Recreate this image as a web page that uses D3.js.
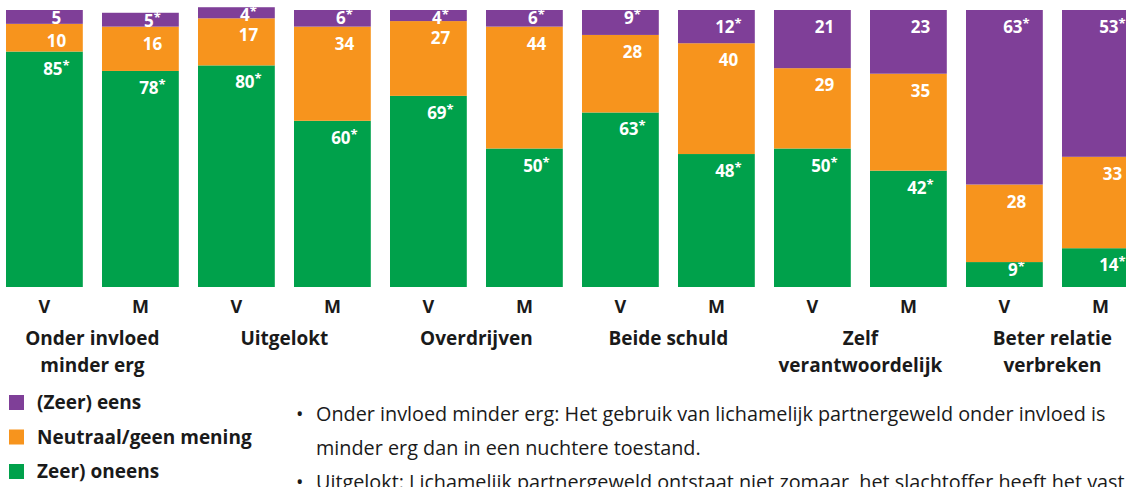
<!DOCTYPE html>
<html>
<head>
<meta charset="utf-8">
<script src="https://cdn.jsdelivr.net/npm/d3@7"></script>
<style>
  body { margin: 0; background: #fff; overflow: hidden; }
  svg { display: block; }
  .lbl { font-family: "Open Sans", sans-serif; font-weight: 700; fill: #fff; font-size: 17px; }
  .axis-txt { font-family: "Open Sans", sans-serif; font-weight: 700; fill: #1a1a1a; font-size: 18px; }
  .grp-txt { font-family: "Open Sans", sans-serif; font-weight: 700; fill: #1a1a1a; font-size: 19px; }
  .note { font-family: "Open Sans", sans-serif; fill: #1a1a1a; font-size: 19px; }
</style>
</head>
<body>
<div id="chart"></div>
<script>
// data
var groups = [["Onder invloed", "minder erg"], ["Uitgelokt"], ["Overdrijven"], ["Beide schuld"], ["Zelf", "verantwoordelijk"], ["Beter relatie", "verbreken"]];
var sexes = ["V", "M"];
var oneens   = [85, 78, 80, 60, 69, 50, 63, 48, 50, 42, 9, 14];
var neutraal = [10, 16, 17, 34, 27, 44, 28, 40, 29, 35, 28, 33];
var eens     = [5, 5, 4, 6, 4, 6, 9, 12, 21, 23, 63, 53];
// significant difference (asterisk)
var sigOneens   = [1, 1, 1, 1, 1, 1, 1, 1, 1, 1, 1, 1];
var sigNeutraal = [0, 0, 0, 0, 0, 0, 0, 0, 0, 0, 0, 0];
var sigEens     = [0, 1, 1, 1, 1, 1, 1, 1, 0, 0, 1, 1];
var legendLabels = ["(Zeer) eens", "Neutraal/geen mening", "Zeer) oneens"];
var notes = [
  "Onder invloed minder erg: Het gebruik van lichamelijk partnergeweld onder invloed is",
  "minder erg dan in een nuchtere toestand.",
  "Uitgelokt: Lichamelijk partnergeweld ontstaat niet zomaar, het slachtoffer heeft het vast"
];

var colors = { oneens: "#00a14b", neutraal: "#f7941d", eens: "#7f3f98" };

var svgWidth = 1126;
var svgHeight = 487;

var svg = d3.select("#chart")
  .append("svg")
  .attr("width", svgWidth)
  .attr("height", svgHeight);

var rows = oneens.map(function(d, i) {
  return {
    id: i,
    group: Math.floor(i / 2),
    sex: sexes[i % 2],
    oneens: oneens[i],
    neutraal: neutraal[i],
    eens: eens[i],
    sig: { oneens: sigOneens[i], neutraal: sigNeutraal[i], eens: sigEens[i] }
  };
});

var keys = ["oneens", "neutraal", "eens"];
var stacked = d3.stack().keys(keys)(rows);

var x = d3.scaleBand()
  .domain(rows.map(d => d.id))
  .range([-3.6, 1148.4])
  .paddingInner(0.2)
  .paddingOuter(0.1);

var y = d3.scaleLinear()
  .domain([0, 100])
  .range([287, 10]);

var layers = svg.selectAll("g.layer")
  .data(stacked)
  .enter()
  .append("g")
  .attr("class", "layer")
  .attr("fill", d => colors[d.key]);

layers.selectAll("rect")
  .data(d => d)
  .enter()
  .append("rect")
  .attr("x", d => x(d.data.id))
  .attr("width", x.bandwidth())
  .attr("y", d => y(d[1]))
  .attr("height", d => y(d[0]) - y(d[1]));

// value labels
layers.each(function(layer) {
  var key = layer.key;
  var t = d3.select(this).selectAll("text")
    .data(layer)
    .enter()
    .append("text")
    .attr("class", "lbl")
    .attr("text-anchor", "middle")
    .attr("x", d => x(d.data.id) + x.bandwidth() / 2 + 12)
    .attr("y", function(d) {
      var top = y(d[1]);
      var h = y(d[0]) - top;
      return h < 25 ? top + 14 : top + 23;
    });
  t.append("tspan").text(d => d.data[key]);
  t.filter(d => d.data.sig[key])
    .append("tspan")
    .attr("dy", -5)
    .attr("font-size", 13)
    .text("*");
});

// V / M labels
svg.append("g").selectAll("text")
  .data(rows)
  .enter()
  .append("text")
  .attr("class", "axis-txt")
  .attr("text-anchor", "middle")
  .attr("x", d => x(d.id) + x.bandwidth() / 2)
  .attr("y", 313)
  .text(d => d.sex);

// group labels
var groupLabels = svg.append("g").selectAll("text")
  .data(groups)
  .enter()
  .append("text")
  .attr("class", "grp-txt")
  .attr("text-anchor", "middle")
  .attr("x", (d, i) => (x(i * 2) + x(i * 2 + 1) + x.bandwidth()) / 2)
  .attr("y", 345);

groupLabels.selectAll("tspan")
  .data(d => d)
  .enter()
  .append("tspan")
  .attr("x", function() { return d3.select(this.parentNode).attr("x"); })
  .attr("dy", (d, i) => i === 0 ? 0 : 27)
  .text(d => d);

// legend
var legendColors = [colors.eens, colors.neutraal, colors.oneens];
var legend = svg.append("g").selectAll("g")
  .data(legendLabels)
  .enter()
  .append("g")
  .attr("transform", (d, i) => `translate(9, ${395 + i * 34.5})`);

legend.append("rect")
  .attr("width", 15)
  .attr("height", 15)
  .attr("fill", (d, i) => legendColors[i]);

legend.append("text")
  .attr("class", "grp-txt")
  .attr("x", 28)
  .attr("y", 14)
  .text(d => d);

// notes
var noteG = svg.append("g");
var noteText = noteG.selectAll("text.note")
  .data(notes)
  .enter()
  .append("text")
  .attr("class", "note")
  .attr("x", 316)
  .attr("y", (d, i) => 421 + i * 34)
  .text(d => d);

// first note line spans about 790px in the picture, fit the font size to that
var firstLen = noteText.node().getComputedTextLength();
var noteSize = Math.min(21, 19 * 790 / firstLen);
noteText.style("font-size", noteSize + "px");

noteG.selectAll("text.bullet")
  .data([0, 2])
  .enter()
  .append("text")
  .attr("class", "note bullet")
  .style("font-size", noteSize + "px")
  .attr("x", 296)
  .attr("y", d => 421 + d * 34)
  .text("\u2022");
</script>
</body>
</html>
